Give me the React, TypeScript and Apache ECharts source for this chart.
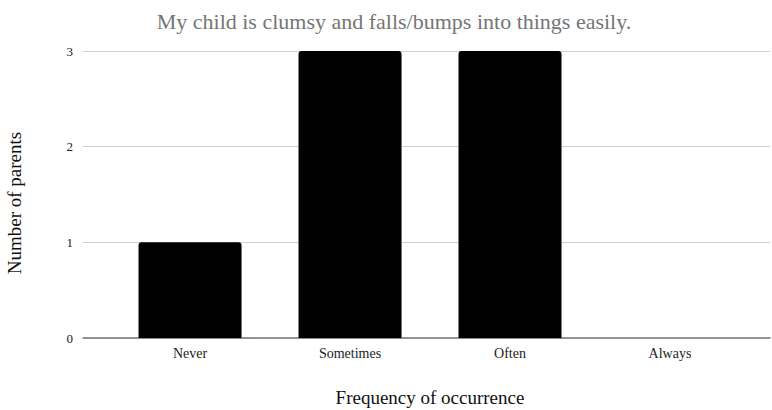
import React, { useEffect, useRef } from "react";
import * as echarts from "echarts";

const titleText = "My child is clumsy and falls/bumps into things easily.";
const categories = ["Never", "Sometimes", "Often", "Always"];
const counts = [1, 3, 3, 0];
const yTicks = [0, 1, 2, 3];
const xAxisName = "Frequency of occurrence";
const yAxisName = "Number of parents";

const FONT = "'Liberation Serif', 'Times New Roman', serif";

export default function App() {
  const ref = useRef<HTMLDivElement>(null);
  useEffect(() => {
    if (!ref.current) return;
    const chart = echarts.init(ref.current, undefined, { renderer: "svg" });
    const positions = categories.map((_, i) => i);
    chart.setOption({
      animation: false,
      backgroundColor: "#ffffff",
      title: {
        text: titleText,
        left: 389,
        textAlign: "center",
        top: 5,
        textStyle: { fontFamily: FONT, fontSize: 22, fontWeight: "normal", color: "#757575" },
      },
      grid: { left: 83, right: 2, top: 51, bottom: 72, containLabel: false },
      xAxis: {
        type: "value",
        min: -0.669,
        max: 3.625,
        axisLine: { show: true, onZero: false, lineStyle: { color: "#777", width: 1.5 } },
        axisTick: { show: false },
        splitLine: { show: false },
        axisLabel: {
          customValues: positions,
          formatter: (v: number) => categories[Math.round(v)] ?? "",
          fontFamily: FONT,
          fontSize: 14,
          color: "#222",
          margin: 8,
        },
      },
      yAxis: {
        type: "value",
        min: 0,
        max: 3,
        interval: 1,
        axisLine: { show: false },
        axisTick: { show: false },
        splitLine: { show: true, lineStyle: { color: "#d0d0d0", width: 1 } },
        axisLabel: {
          customValues: yTicks,
          fontFamily: FONT,
          fontSize: 13,
          color: "#222",
          margin: 10,
        },
      },
      series: [
        {
          type: "bar",
          barWidth: 103,
          data: counts.map((c, i) => [positions[i], c]),
          itemStyle: { color: "#000000", borderRadius: [3, 3, 0, 0] },
        },
      ],
      graphic: [
        {
          type: "text",
          x: 430,
          y: 397,
          style: {
            text: xAxisName,
            font: `19px ${FONT}`,
            fill: "#111",
            align: "center",
            verticalAlign: "middle",
          },
        },
        {
          type: "text",
          x: 14,
          y: 203,
          rotation: Math.PI / 2,
          style: {
            text: yAxisName,
            font: `19px ${FONT}`,
            fill: "#111",
            align: "center",
            verticalAlign: "middle",
          },
        },
      ],
    });
    return () => chart.dispose();
  }, []);
  return (
    <div
      ref={ref}
      style={{ position: "fixed", left: 0, top: 0, width: 772, height: 410, background: "#fff" }}
    />
  );
}
